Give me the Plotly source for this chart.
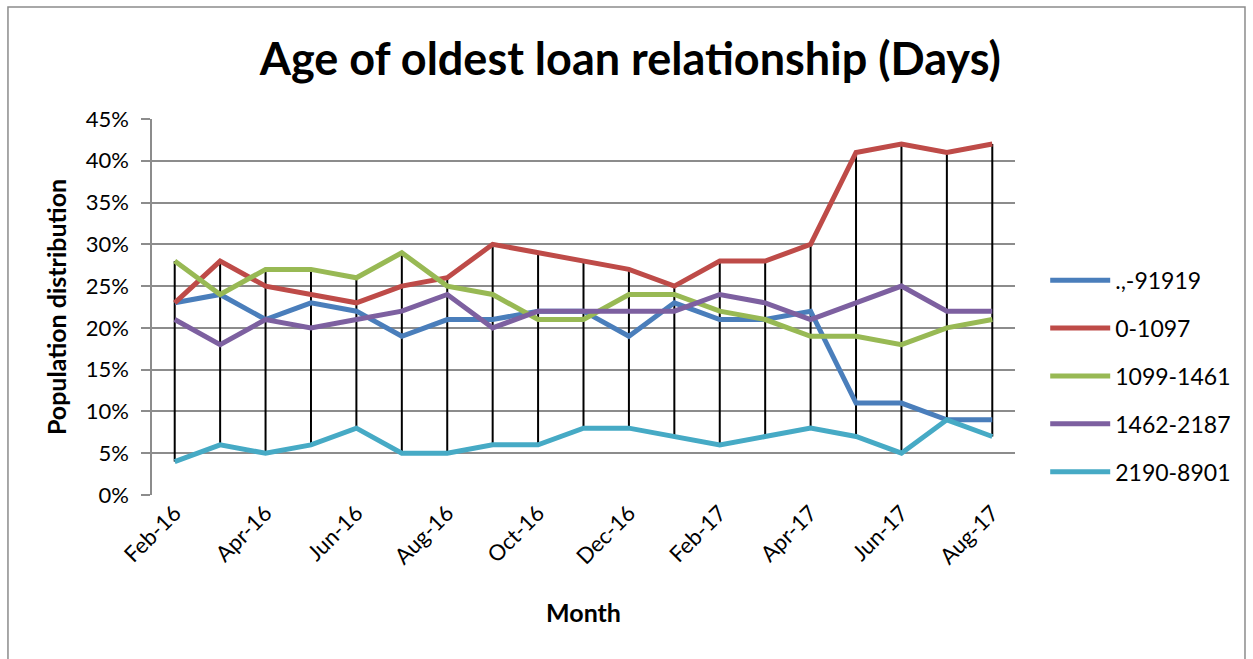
import numpy as np
import plotly.graph_objects as go

months = ["Feb-16", "Mar-16", "Apr-16", "May-16", "Jun-16", "Jul-16", "Aug-16",
          "Sep-16", "Oct-16", "Nov-16", "Dec-16", "Jan-17", "Feb-17", "Mar-17",
          "Apr-17", "May-17", "Jun-17", "Jul-17", "Aug-17"]

band_missing = [23, 24, 21, 23, 22, 19, 21, 21, 22, 22, 19, 23, 21, 21, 22, 11, 11, 9, 9]
band_0_1097 = [23, 28, 25, 24, 23, 25, 26, 30, 29, 28, 27, 25, 28, 28, 30, 41, 42, 41, 42]
band_1099_1461 = [28, 24, 27, 27, 26, 29, 25, 24, 21, 21, 24, 24, 22, 21, 19, 19, 18, 20, 21]
band_1462_2187 = [21, 18, 21, 20, 21, 22, 24, 20, 22, 22, 22, 22, 24, 23, 21, 23, 25, 22, 22]
band_2190_8901 = [4, 6, 5, 6, 8, 5, 5, 6, 6, 8, 8, 7, 6, 7, 8, 7, 5, 9, 7]

series_names = [".,-91919", "0-1097", "1099-1461", "1462-2187", "2190-8901"]
series_values = [band_missing, band_0_1097, band_1099_1461, band_1462_2187, band_2190_8901]
series_colors = ["#4a7ebb", "#be4b48", "#98b954", "#7d60a0", "#46aac5"]

ytick_vals = [0, 5, 10, 15, 20, 25, 30, 35, 40, 45]

FONT = "Lato"
GRID = "#8c8c8c"

fig = go.Figure()

# High-low lines: vertical segment from the lowest to the highest series value per month
arr = np.array(series_values, dtype=float) / 100.0
hi = arr.max(axis=0)
lo = arr.min(axis=0)
hx, hy = [], []
for i, m in enumerate(months):
    hx += [i, i, None]
    hy += [lo[i], hi[i], None]
fig.add_trace(go.Scatter(x=hx, y=hy, mode="lines",
                         line=dict(color="black", width=2),
                         showlegend=False, hoverinfo="skip"))

for k, (name, vals, col) in enumerate(zip(series_names, series_values, series_colors)):
    fig.add_trace(go.Scatter(
        x=list(range(len(months))), y=[v / 100.0 for v in vals],
        mode="lines", name=name, legendgroup=name,
        line=dict(color=col, width=5),
    ))

# Outer chart frame
fig.add_shape(type="rect", xref="paper", yref="paper",
              x0=-0.1669, x1=1.2665, y0=-0.6, y1=1.2979,
              line=dict(color="#8c8c8c", width=1.5), fillcolor="rgba(0,0,0,0)")

fig.update_layout(
    width=1253, height=659,
    margin=dict(l=152, r=238, t=119, b=164),
    paper_bgcolor="white", plot_bgcolor="white",
    font=dict(family=FONT, color="black", size=22),
    title=dict(text="<b>Age of oldest loan relationship (Days)</b>",
               x=0.503, xref="container", xanchor="center",
               y=0.91, yref="container", yanchor="middle",
               font=dict(size=45, family=FONT)),
    showlegend=True,
    legend=dict(x=1.035, xanchor="left", y=0.316, yanchor="middle",
                font=dict(size=23, family=FONT),
                tracegroupgap=15, traceorder="grouped",
                itemwidth=60, bgcolor="rgba(0,0,0,0)"),
    xaxis=dict(
        range=[-0.5, len(months) - 0.5],
        tickmode="array",
        tickvals=list(range(0, len(months), 2)),
        ticktext=months[::2],
        tickangle=-45,
        showgrid=False, zeroline=False,
        showline=False, ticks="",
        title=dict(text="<b>Month</b>", font=dict(size=25, family=FONT), standoff=36),
        tickfont=dict(size=22),
    ),
    yaxis=dict(
        range=[0, 0.45],
        tickmode="array",
        tickvals=[v / 100.0 for v in ytick_vals],
        ticktext=[f"{v}%" for v in ytick_vals],
        showgrid=True, gridcolor=GRID, gridwidth=1.5,
        zeroline=False,
        showline=True, linecolor=GRID, linewidth=1.5,
        ticks="outside", ticklen=9, tickcolor=GRID, tickwidth=1.5,
        ticklabelstandoff=8,
        title=dict(text="<b>Population distribution</b>", font=dict(size=25, family=FONT), standoff=12),
        tickfont=dict(size=22),
    ),
)

fig.write_html("out.html")
